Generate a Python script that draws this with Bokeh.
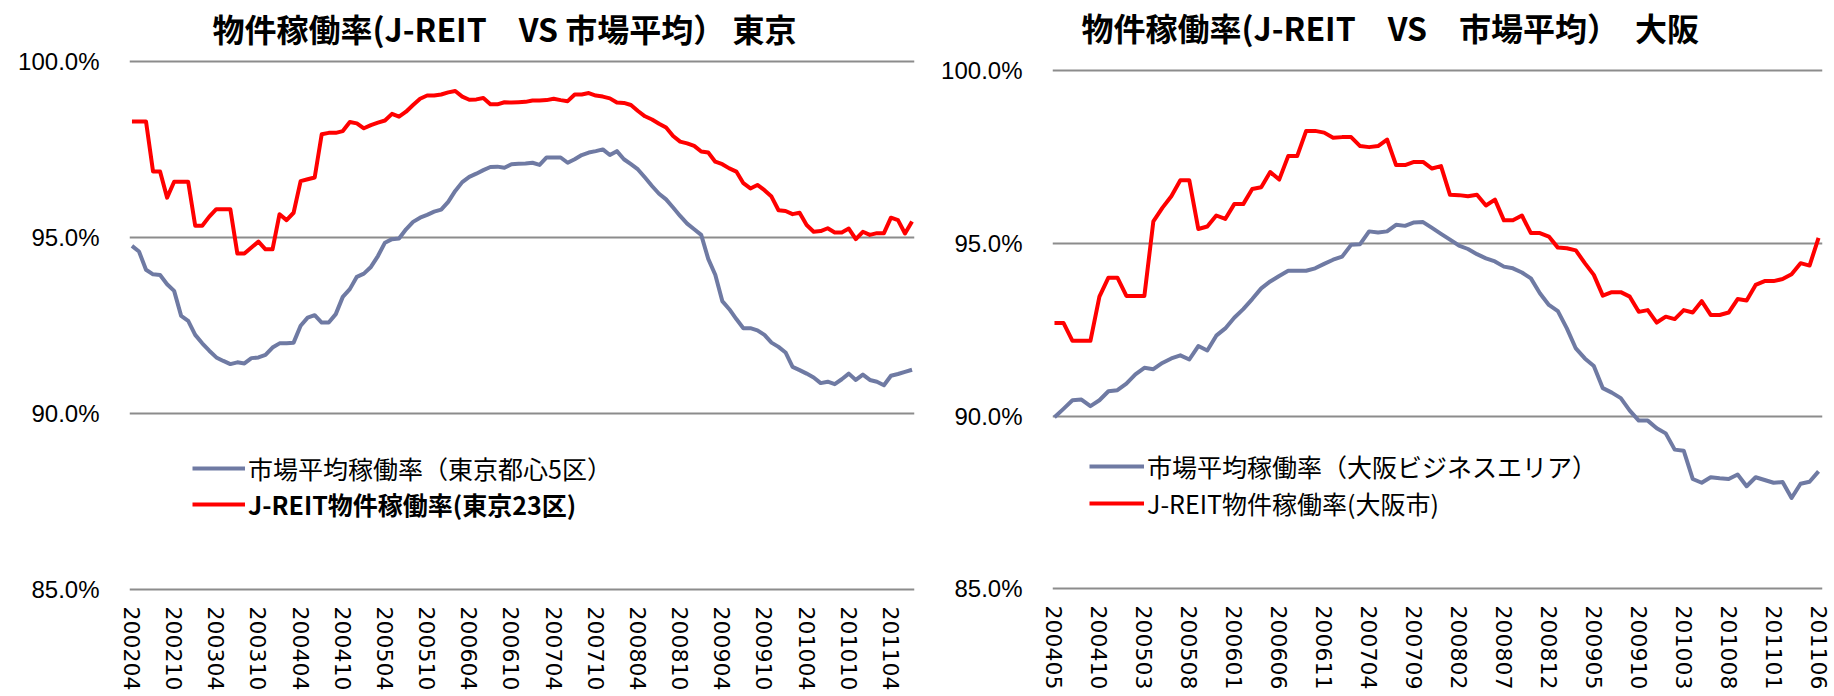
from bokeh.plotting import figure
from bokeh.models import FixedTicker, PrintfTickFormatter, Legend, LegendItem, Label
from bokeh.layouts import row
from bokeh.embed import file_html
from bokeh.resources import INLINE

# ---------------- data ----------------
tokyo_start = "200204"
tokyo_tick_labels = ["200204", "200210", "200304", "200310", "200404", "200410",
                     "200504", "200510", "200604", "200610", "200704", "200710",
                     "200804", "200810", "200904", "200910", "201004", "201010", "201104"]
tokyo_market = [94.77, 94.61, 94.09, 93.96, 93.94, 93.68, 93.49, 92.78, 92.64, 92.24,
                92.00, 91.79, 91.60, 91.50, 91.41, 91.46, 91.43, 91.58, 91.60, 91.67,
                91.88, 92.00, 92.00, 92.02, 92.50, 92.73, 92.80, 92.59, 92.59, 92.83,
                93.32, 93.54, 93.89, 93.98, 94.17, 94.48, 94.86, 94.96, 94.98, 95.24,
                95.45, 95.57, 95.65, 95.74, 95.80, 96.02, 96.33, 96.58, 96.73, 96.82,
                96.92, 97.01, 97.02, 96.99, 97.09, 97.10, 97.11, 97.13, 97.07, 97.28,
                97.28, 97.28, 97.13, 97.23, 97.35, 97.42, 97.46, 97.51, 97.35, 97.46,
                97.23, 97.09, 96.94, 96.71, 96.47, 96.25, 96.09, 95.86, 95.62, 95.40,
                95.24, 95.08, 94.40, 93.95, 93.20, 92.97, 92.69, 92.43, 92.43, 92.37,
                92.24, 92.02, 91.90, 91.74, 91.33, 91.24, 91.14, 91.03, 90.87, 90.91,
                90.84, 90.98, 91.14, 90.96, 91.11, 90.96, 90.91, 90.81, 91.08, 91.13,
                91.19, 91.25]
tokyo_jreit = [98.30, 98.30, 98.30, 96.88, 96.88, 96.14, 96.59, 96.59, 96.59, 95.34,
               95.34, 95.60, 95.81, 95.81, 95.81, 94.55, 94.55, 94.72, 94.89, 94.67,
               94.67, 95.67, 95.50, 95.71, 96.61, 96.66, 96.71, 97.94, 97.98, 97.98,
               98.03, 98.29, 98.25, 98.11, 98.20, 98.27, 98.33, 98.52, 98.44, 98.58,
               98.77, 98.95, 99.04, 99.04, 99.07, 99.13, 99.17, 99.01, 98.92, 98.93,
               98.97, 98.79, 98.79, 98.85, 98.84, 98.85, 98.86, 98.90, 98.90, 98.91,
               98.95, 98.91, 98.88, 99.07, 99.07, 99.11, 99.04, 99.01, 98.96, 98.84,
               98.83, 98.77, 98.60, 98.45, 98.36, 98.24, 98.13, 97.89, 97.73, 97.68,
               97.61, 97.45, 97.42, 97.16, 97.09, 96.97, 96.88, 96.55, 96.40, 96.50,
               96.35, 96.17, 95.78, 95.76, 95.67, 95.71, 95.36, 95.17, 95.19, 95.27,
               95.15, 95.15, 95.26, 94.96, 95.17, 95.08, 95.13, 95.13, 95.57, 95.50,
               95.12, 95.46]

osaka_start = "200405"
osaka_tick_labels = ["200405", "200410", "200503", "200508", "200601", "200606",
                     "200611", "200704", "200709", "200802", "200807", "200812",
                     "200905", "200910", "201003", "201008", "201101", "201106"]
osaka_market = [89.97, 90.21, 90.46, 90.48, 90.29, 90.46, 90.72, 90.75, 90.94, 91.21,
                91.40, 91.36, 91.54, 91.67, 91.76, 91.64, 92.03, 91.90, 92.33, 92.54,
                92.85, 93.10, 93.39, 93.70, 93.90, 94.06, 94.21, 94.21, 94.21, 94.28,
                94.41, 94.53, 94.62, 94.96, 94.98, 95.35, 95.32, 95.35, 95.54, 95.51,
                95.61, 95.62, 95.45, 95.28, 95.11, 94.94, 94.84, 94.69, 94.57, 94.48,
                94.33, 94.28, 94.16, 93.99, 93.56, 93.22, 93.04, 92.54, 91.96, 91.67,
                91.45, 90.81, 90.68, 90.52, 90.16, 89.87, 89.87, 89.65, 89.50, 89.03,
                89.00, 88.18, 88.07, 88.23, 88.20, 88.18, 88.31, 87.97, 88.23, 88.15,
                88.07, 88.09, 87.63, 88.04, 88.10, 88.40]
osaka_jreit = [92.70, 92.70, 92.18, 92.18, 92.18, 93.46, 94.01, 94.01, 93.48, 93.48,
               93.48, 95.64, 96.03, 96.37, 96.83, 96.83, 95.42, 95.49, 95.81, 95.71,
               96.14, 96.14, 96.58, 96.63, 97.07, 96.85, 97.53, 97.53, 98.26, 98.26,
               98.21, 98.06, 98.08, 98.08, 97.82, 97.79, 97.82, 98.01, 97.27, 97.27,
               97.36, 97.36, 97.17, 97.24, 96.41, 96.40, 96.37, 96.41, 96.10, 96.27,
               95.67, 95.67, 95.81, 95.30, 95.30, 95.20, 94.88, 94.86, 94.80, 94.43,
               94.09, 93.49, 93.59, 93.59, 93.46, 93.02, 93.07, 92.71, 92.88, 92.81,
               93.07, 93.00, 93.33, 92.93, 92.93, 93.00, 93.39, 93.35, 93.80, 93.91,
               93.91, 93.97, 94.11, 94.43, 94.36, 95.16]

y_ticks = [85, 90, 95, 100]

tokyo_title = "物件稼働率(J-REIT　VS 市場平均） 東京"
osaka_title = "物件稼働率(J-REIT　VS　市場平均）　大阪"
tokyo_market_label = "市場平均稼働率（東京都心5区）"
tokyo_jreit_label = "J-REIT物件稼働率(東京23区)"
osaka_market_label = "市場平均稼働率（大阪ビジネスエリア）"
osaka_jreit_label = "J-REIT物件稼働率(大阪市)"

MARKET_COLOR = "#6F7AA3"
JREIT_COLOR = "#FF0000"
GRID_COLOR = "#8C8C8C"
CJK = "Noto Sans CJK JP"


def month_offset(start, label):
    return (int(label[:4]) - int(start[:4])) * 12 + int(label[4:]) - int(start[4:])


def make_chart(title, start, tick_labels, market, jreit, market_label, jreit_label,
               geo):
    n = len(market)
    xs = list(range(n))
    y_lo = 84.95
    y_hi = y_lo + geo["fh"] / geo["ppu"]          # frame reaches up to the title row
    p = figure(output_backend="svg", toolbar_location=None, tools="",
               frame_width=geo["fw"], frame_height=geo["fh"],
               min_border_left=geo["bl"], min_border_right=geo["br"],
               min_border_top=8, min_border_bottom=geo["bb"],
               x_range=(geo["x0"], n - 1 + geo["x1"]), y_range=(y_lo, y_hi))
    p.outline_line_color = None
    p.background_fill_color = "white"
    p.border_fill_color = "white"

    # chart title, placed inside the (empty) top strip of the frame
    p.add_layout(Label(x=geo["tx"], y=geo["ty"], x_units="screen", y_units="data",
                       text=title, text_font=CJK, text_font_size="32px",
                       text_font_style="bold", text_color="black",
                       text_align="left", text_baseline="middle"))

    r_m = p.line(xs, market, line_color=MARKET_COLOR, line_width=4, line_join="round")
    r_j = p.line(xs, jreit, line_color=JREIT_COLOR, line_width=4, line_join="round")

    p.xgrid.visible = False
    p.ygrid.ticker = FixedTicker(ticks=y_ticks)
    p.ygrid.grid_line_color = GRID_COLOR
    p.ygrid.grid_line_width = 2

    ya = p.yaxis[0]
    ya.ticker = FixedTicker(ticks=y_ticks)
    ya.formatter = PrintfTickFormatter(format="%.1f%%")
    ya.axis_line_color = None
    ya.major_tick_line_color = None
    ya.minor_tick_line_color = None
    ya.major_label_standoff = 24
    ya.major_label_text_font = "Liberation Sans"
    ya.major_label_text_font_size = "24px"
    ya.major_label_text_color = "black"

    tick_pos = [month_offset(start, t) for t in tick_labels]
    xa = p.xaxis[0]
    xa.ticker = FixedTicker(ticks=tick_pos)
    xa.major_label_overrides = {pos: lab for pos, lab in zip(tick_pos, tick_labels)}
    xa.major_label_orientation = "vertical"
    xa.axis_line_color = None
    xa.major_tick_line_color = None
    xa.minor_tick_line_color = None
    xa.major_label_standoff = geo["xstand"]
    xa.major_label_text_font = "DejaVu Sans"
    xa.major_label_text_font_size = "22px"
    xa.major_label_text_color = "black"

    for items, loc, style in (([LegendItem(label=market_label, renderers=[r_m])], geo["leg1"], "normal"),
                              ([LegendItem(label=jreit_label, renderers=[r_j])], geo["leg2"], geo["leg2style"])):
        lg = Legend(items=items, location=loc, orientation="vertical")
        lg.padding = 0
        lg.margin = 0
        lg.spacing = 0
        lg.border_line_color = None
        lg.background_fill_alpha = 0
        lg.glyph_width = geo["gw"]
        lg.glyph_height = 30
        lg.label_height = 30
        lg.label_standoff = 3
        lg.label_text_font = CJK
        lg.label_text_font_size = geo["legfs"]
        lg.label_text_font_style = style
        lg.label_text_color = "black"
        p.add_layout(lg, "center")
    return p


left = make_chart(tokyo_title, tokyo_start, tokyo_tick_labels, tokyo_market, tokyo_jreit,
                  tokyo_market_label, tokyo_jreit_label,
                  dict(fw=785, fh=583, ppu=35.2, bl=129, br=6, bb=105, x0=-0.35, x1=0.35,
                       tx=83, ty=100.96, xstand=9, leg1=(63, 105), leg2=(63, 69), gw=53,
                       leg2style="bold", legfs="25px"))
right = make_chart(osaka_title, osaka_start, osaka_tick_labels, osaka_market, osaka_jreit,
                   osaka_market_label, osaka_jreit_label,
                   dict(fw=770, fh=582, ppu=34.53, bl=132, br=12, bb=106, x0=-0.22, x1=0.44,
                        tx=29, ty=101.26, xstand=9, leg1=(37, 106), leg2=(37, 69), gw=55,
                        leg2style="normal", legfs="25px"))

layout = row(left, right)
open("out.html", "w").write(file_html(layout, INLINE))
